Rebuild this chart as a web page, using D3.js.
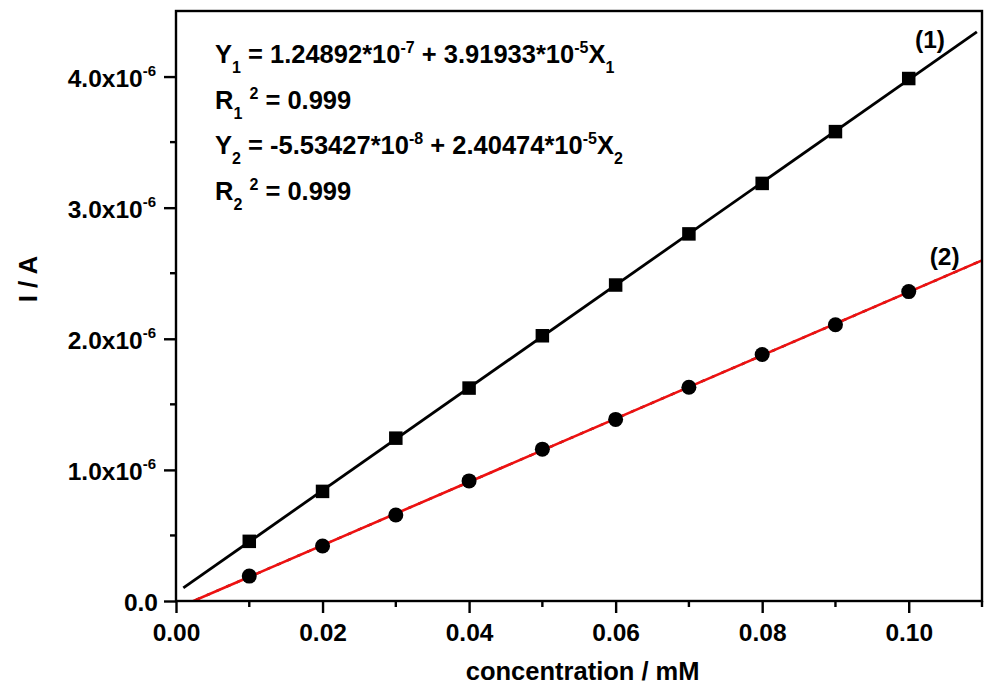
<!DOCTYPE html>
<html>
<head>
<meta charset="utf-8">
<script src="https://cdn.jsdelivr.net/npm/d3@7"></script>
<style>
  body { margin: 0; background: #fff; }
  svg { display: block; font-family: "Liberation Sans", Arial, sans-serif; font-weight: bold; }
</style>
</head>
<body>
<svg id="chart" width="1000" height="697"></svg>
<script>
// concentration (mM)
const concentration = [0.01, 0.02, 0.03, 0.04, 0.05, 0.06, 0.07, 0.08, 0.09, 0.10];
// current (A)
const current1 = [0.455e-6, 0.836e-6, 1.242e-6, 1.624e-6, 2.023e-6, 2.41e-6, 2.80e-6, 3.185e-6, 3.58e-6, 3.985e-6];
const current2 = [0.19e-6, 0.42e-6, 0.656e-6, 0.916e-6, 1.158e-6, 1.385e-6, 1.63e-6, 1.88e-6, 2.107e-6, 2.36e-6];
// x range each fitted line is drawn over
const fitRange1 = [0.001, 0.1093];
const fitRange2 = [0, 0.11];

const xTicks = [0, 0.02, 0.04, 0.06, 0.08, 0.10];
const xMinor = [0.01, 0.03, 0.05, 0.07, 0.09, 0.11];
const yTicks = [0, 1e-6, 2e-6, 3e-6, 4e-6];
const yMinor = [0.5e-6, 1.5e-6, 2.5e-6, 3.5e-6];

const equations = [
    [['Y', ''], ['1', 'sub'], [' = 1.24892*10', ''], ['-7', 'sup'], [' + 3.91933*10', ''], ['-5', 'sup'], ['X', ''], ['1', 'sub']],
    [['R', ''], ['1', 'sub'], [' ', ''], ['2', 'sup'], [' = 0.999', '']],
    [['Y', ''], ['2', 'sub'], [' = -5.53427*10', ''], ['-8', 'sup'], [' + 2.40474*10', ''], ['-5', 'sup'], ['X', ''], ['2', 'sub']],
    [['R', ''], ['2', 'sub'], [' ', ''], ['2', 'sup'], [' = 0.999', '']]
];
const curveLabels = [
    { text: '(1)', x: 0.1029, y: 4.22e-6 },
    { text: '(2)', x: 0.1049, y: 2.565e-6 }
];

const svg = d3.select('#chart');
const margin = { left: 176, right: 18, top: 11, bottom: 96 };
const width = 1000 - margin.left - margin.right;
const height = 697 - margin.top - margin.bottom;

const x = d3.scaleLinear().domain([0, 0.11]).range([margin.left, margin.left + width]);
const y = d3.scaleLinear().domain([0, 4.5e-6]).range([margin.top + height, margin.top]);

svg.append('clipPath').attr('id', 'plot-clip')
    .append('rect')
    .attr('x', x(0)).attr('y', y(4.5e-6))
    .attr('width', width).attr('height', height);

// least squares line through a series
function fit(xs, ys) {
    const mx = d3.mean(xs), my = d3.mean(ys);
    const slope = d3.sum(xs, (v, i) => (v - mx) * (ys[i] - my)) / d3.sum(xs, v => (v - mx) * (v - mx));
    return { slope, intercept: my - slope * mx };
}
const f1 = fit(concentration, current1);
const f2 = fit(concentration, current2);

const line = d3.line().x(d => x(d[0])).y(d => y(d[1]));
const plot = svg.append('g').attr('clip-path', 'url(#plot-clip)');

// faint dashed trace under the red fit
plot.append('path')
    .attr('d', line(fitRange2.map(v => [v, f2.intercept + f2.slope * v])))
    .attr('fill', 'none')
    .attr('stroke', '#222')
    .attr('stroke-width', 2.4)
    .attr('stroke-dasharray', '4,7');

plot.append('path')
    .attr('d', line(fitRange1.map(v => [v, f1.intercept + f1.slope * v])))
    .attr('fill', 'none')
    .attr('stroke', '#000')
    .attr('stroke-width', 2.8);

plot.append('path')
    .attr('d', line(fitRange2.map(v => [v, f2.intercept + f2.slope * v])))
    .attr('fill', 'none')
    .attr('stroke', '#ee1111')
    .attr('stroke-width', 2.6);

// markers
const sq = 13.5;
svg.append('g').selectAll('rect')
    .data(concentration)
    .join('rect')
    .attr('x', (d) => x(d) - sq / 2)
    .attr('y', (d, i) => y(current1[i]) - sq / 2)
    .attr('width', sq)
    .attr('height', sq)
    .attr('fill', '#000');

svg.append('g').selectAll('circle')
    .data(concentration)
    .join('circle')
    .attr('cx', d => x(d))
    .attr('cy', (d, i) => y(current2[i]))
    .attr('r', 7.5)
    .attr('fill', '#000');

// frame
svg.append('rect')
    .attr('x', x(0)).attr('y', y(4.5e-6))
    .attr('width', width).attr('height', height)
    .attr('fill', 'none')
    .attr('stroke', '#000')
    .attr('stroke-width', 2.4);

// bottom axis
const xAxis = svg.append('g').attr('transform', `translate(0,${y(0)})`);
xAxis.call(d3.axisBottom(x).tickValues(xTicks).tickSize(12).tickSizeOuter(0).tickFormat(d3.format('.2f')));
xAxis.select('.domain').remove();
xAxis.selectAll('.tick line').attr('stroke-width', 2.4);
xAxis.selectAll('.tick text')
    .attr('y', 0).attr('dy', null)
    .attr('transform', 'translate(0,40)')
    .attr('font-size', 24.5)
    .attr('font-family', '"Liberation Sans", Arial, sans-serif')
    .attr('font-weight', 'bold')
    .attr('fill', '#000');
svg.append('g').attr('transform', `translate(0,${y(0)})`)
    .selectAll('line')
    .data(xMinor)
    .join('line')
    .attr('x1', d => x(d)).attr('x2', d => x(d))
    .attr('y1', 0).attr('y2', 6)
    .attr('stroke', '#000').attr('stroke-width', 2.4);

// left axis
const yAxis = svg.append('g').attr('transform', `translate(${x(0)},0)`);
yAxis.call(d3.axisLeft(y).tickValues(yTicks).tickSize(12).tickSizeOuter(0).tickFormat(''));
yAxis.select('.domain').remove();
yAxis.selectAll('.tick line').attr('stroke-width', 2.4);
svg.append('g').attr('transform', `translate(${x(0)},0)`)
    .selectAll('line')
    .data(yMinor)
    .join('line')
    .attr('x1', -6).attr('x2', 0)
    .attr('y1', d => y(d)).attr('y2', d => y(d))
    .attr('stroke', '#000').attr('stroke-width', 2.4);

const yLabels = svg.append('g').selectAll('text')
    .data(yTicks)
    .join('text')
    .attr('x', d => d === 0 ? 158 : 156)
    .attr('y', d => y(d) + 10)
    .attr('text-anchor', 'end')
    .attr('font-size', 24.5);
yLabels.filter(d => d === 0).text('0.0');
yLabels.filter(d => d !== 0).each(function(d) {
    const t = d3.select(this);
    t.append('tspan').text((d * 1e6).toFixed(1) + 'x10');
    t.append('tspan').attr('font-size', 15).attr('dy', -11).text('-6');
});

// axis titles
svg.append('text')
    .attr('x', x(0.0555))
    .attr('y', 680)
    .attr('text-anchor', 'middle')
    .attr('font-size', 25.5)
    .text('concentration / mM');

svg.append('text')
    .attr('transform', 'translate(37,279) rotate(-90)')
    .attr('text-anchor', 'middle')
    .attr('font-size', 26)
    .text('I / A');

// fit equations
const eq = svg.append('g');
equations.forEach((parts, i) => {
    const t = eq.append('text')
        .attr('x', 215)
        .attr('y', 63 + i * 45.6)
        .attr('font-size', 25.5);
    let shift = 0;
    parts.forEach(([str, kind]) => {
        const want = kind === 'sub' ? 10 : kind === 'sup' ? -10 : 0;
        const sp = t.append('tspan').text(str).attr('dy', want - shift);
        if (kind) sp.attr('font-size', 16);
        shift = want;
    });
});

// curve labels
svg.append('g').selectAll('text')
    .data(curveLabels)
    .join('text')
    .attr('x', d => x(d.x))
    .attr('y', d => y(d.y))
    .attr('text-anchor', 'middle')
    .attr('font-size', 24.5)
    .text(d => d.text);
</script>
</body>
</html>
